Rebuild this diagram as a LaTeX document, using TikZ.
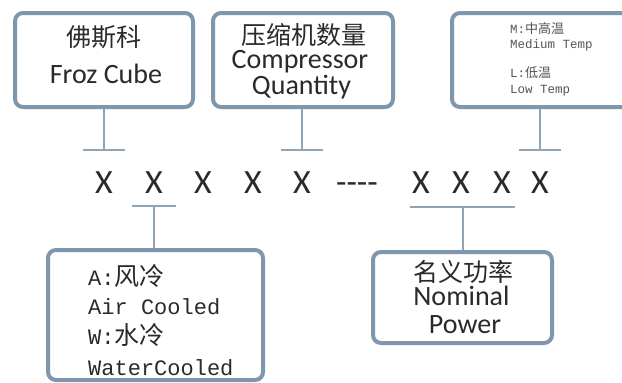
\documentclass[tikz,border=0pt]{standalone}
\usepackage{fontspec}
\setmainfont{Carlito}
\newfontfamily\cjk{Noto Sans CJK SC}
\newfontfamily\mono{Liberation Mono}
\definecolor{framec}{HTML}{7E97AD}
\definecolor{leadc}{HTML}{8EA4B7}
\definecolor{inkc}{HTML}{2A2A2A}
\definecolor{notec}{HTML}{555555}
\newcommand{\zh}[2]{{\cjk\fontsize{#1}{#1}\selectfont #2}}

\begin{document}
\begin{tikzpicture}[x=1pt, y=-1pt,
    frame/.style={draw=framec, line width=4pt, rounded corners=8pt, fill=white, inner sep=0pt},
    lead/.style={draw=leadc, line width=1.5pt},
    cn/.style={font=\cjk\fontsize{25}{25}\selectfont, text=inkc, anchor=base, inner sep=0pt},
    en/.style={font=\fontsize{28}{28}\selectfont, text=inkc, anchor=base, inner sep=0pt},
    code/.style={font=\fontsize{34}{34}\selectfont, text=inkc, anchor=base, inner sep=0pt},
    tag/.style={font=\mono\fontsize{22}{22}\selectfont, text=inkc, anchor=base west, inner sep=0pt},
    note/.style={font=\mono\fontsize{12.5}{12.5}\selectfont, text=notec, anchor=base west, inner sep=0pt}
  ]
  \useasboundingbox (0,0) rectangle (622,383);
  \clip (0,0) rectangle (622,383);
  \fill[white] (0,0) rectangle (622,383);

  % code letters
  \foreach \i/\xx in {1/104,2/154,3/203,4/253,5/302,6/421,7/461,8/502,9/540}{
    \node[code] (x\i) at (\xx,193) {X};
  }
  \node[code] (gap) at (357,193) {{-}{-}{-}{-}};

  % upper boxes
  \node[frame, minimum width=178, minimum height=94] (brand) at (104,60) {};
  \node[cn] (brandcn) at (104,46) {佛斯科};
  \node[en] (branden) at (106,83) {Froz Cube};

  \node[frame, minimum width=180, minimum height=94] (qty) at (303,60) {};
  \node[cn] (qtycn) at (304,44) {压缩机数量};
  \node[en] (qtyen) at (300,68) {Compressor};
  \node[en] (qtyen2) at (301.5,94) {Quantity};

  \node[frame, minimum width=180, minimum height=94] (temp) at (542,60) {};
  \node[note] (tempm) at (510,33) {M:\zh{13}{中高温}};
  \node[note] (tempm2) at (510,48) {Medium Temp};
  \node[note] (templ) at (510,77) {L:\zh{13}{低温}};
  \node[note] (templ2) at (510,93) {Low Temp};

  % lower boxes
  \node[frame, minimum width=215, minimum height=130] (cool) at (155.5,315) {};
  \node[tag] (coola) at (88,285) {A:\zh{25}{风冷}};
  \node[tag] (coola2) at (88,314) {Air Cooled};
  \node[tag] (coolw) at (88,344) {W:\zh{25}{水冷}};
  \node[tag] (coolw2) at (88,375) {WaterCooled};

  \node[frame, minimum width=179, minimum height=91] (power) at (462.5,297.5) {};
  \node[cn] (powercn) at (463,281) {名义功率};
  \node[en] (poweren) at (461.5,305) {Nominal};
  \node[en] (poweren2) at (465,333) {Power};

  % leads
  \coordinate (tbrand) at (x1 |- 0,150);
  \coordinate (tqty) at (x5 |- 0,150);
  \coordinate (ttemp) at (x9 |- 0,150);
  \coordinate (tcool) at (x2 |- 0,206);
  \coordinate (tpower) at (463,207);
  \draw[lead] (brand.south -| tbrand) -- (tbrand);
  \draw[lead] ([xshift=-21pt]tbrand) -- ([xshift=21pt]tbrand);
  \draw[lead] (qty.south -| tqty) -- (tqty);
  \draw[lead] ([xshift=-21pt]tqty) -- ([xshift=21pt]tqty);
  \draw[lead] (temp.south -| ttemp) -- (ttemp);
  \draw[lead] ([xshift=-21pt]ttemp) -- ([xshift=21pt]ttemp);
  \draw[lead] ([xshift=-22pt]tcool) -- ([xshift=22pt]tcool);
  \draw[lead] (tcool) -- (tcool |- cool.north);
  \draw[lead] ([xshift=-53pt]tpower) -- ([xshift=52pt]tpower);
  \draw[lead] (tpower) -- (tpower |- power.north);
\end{tikzpicture}
\end{document}
